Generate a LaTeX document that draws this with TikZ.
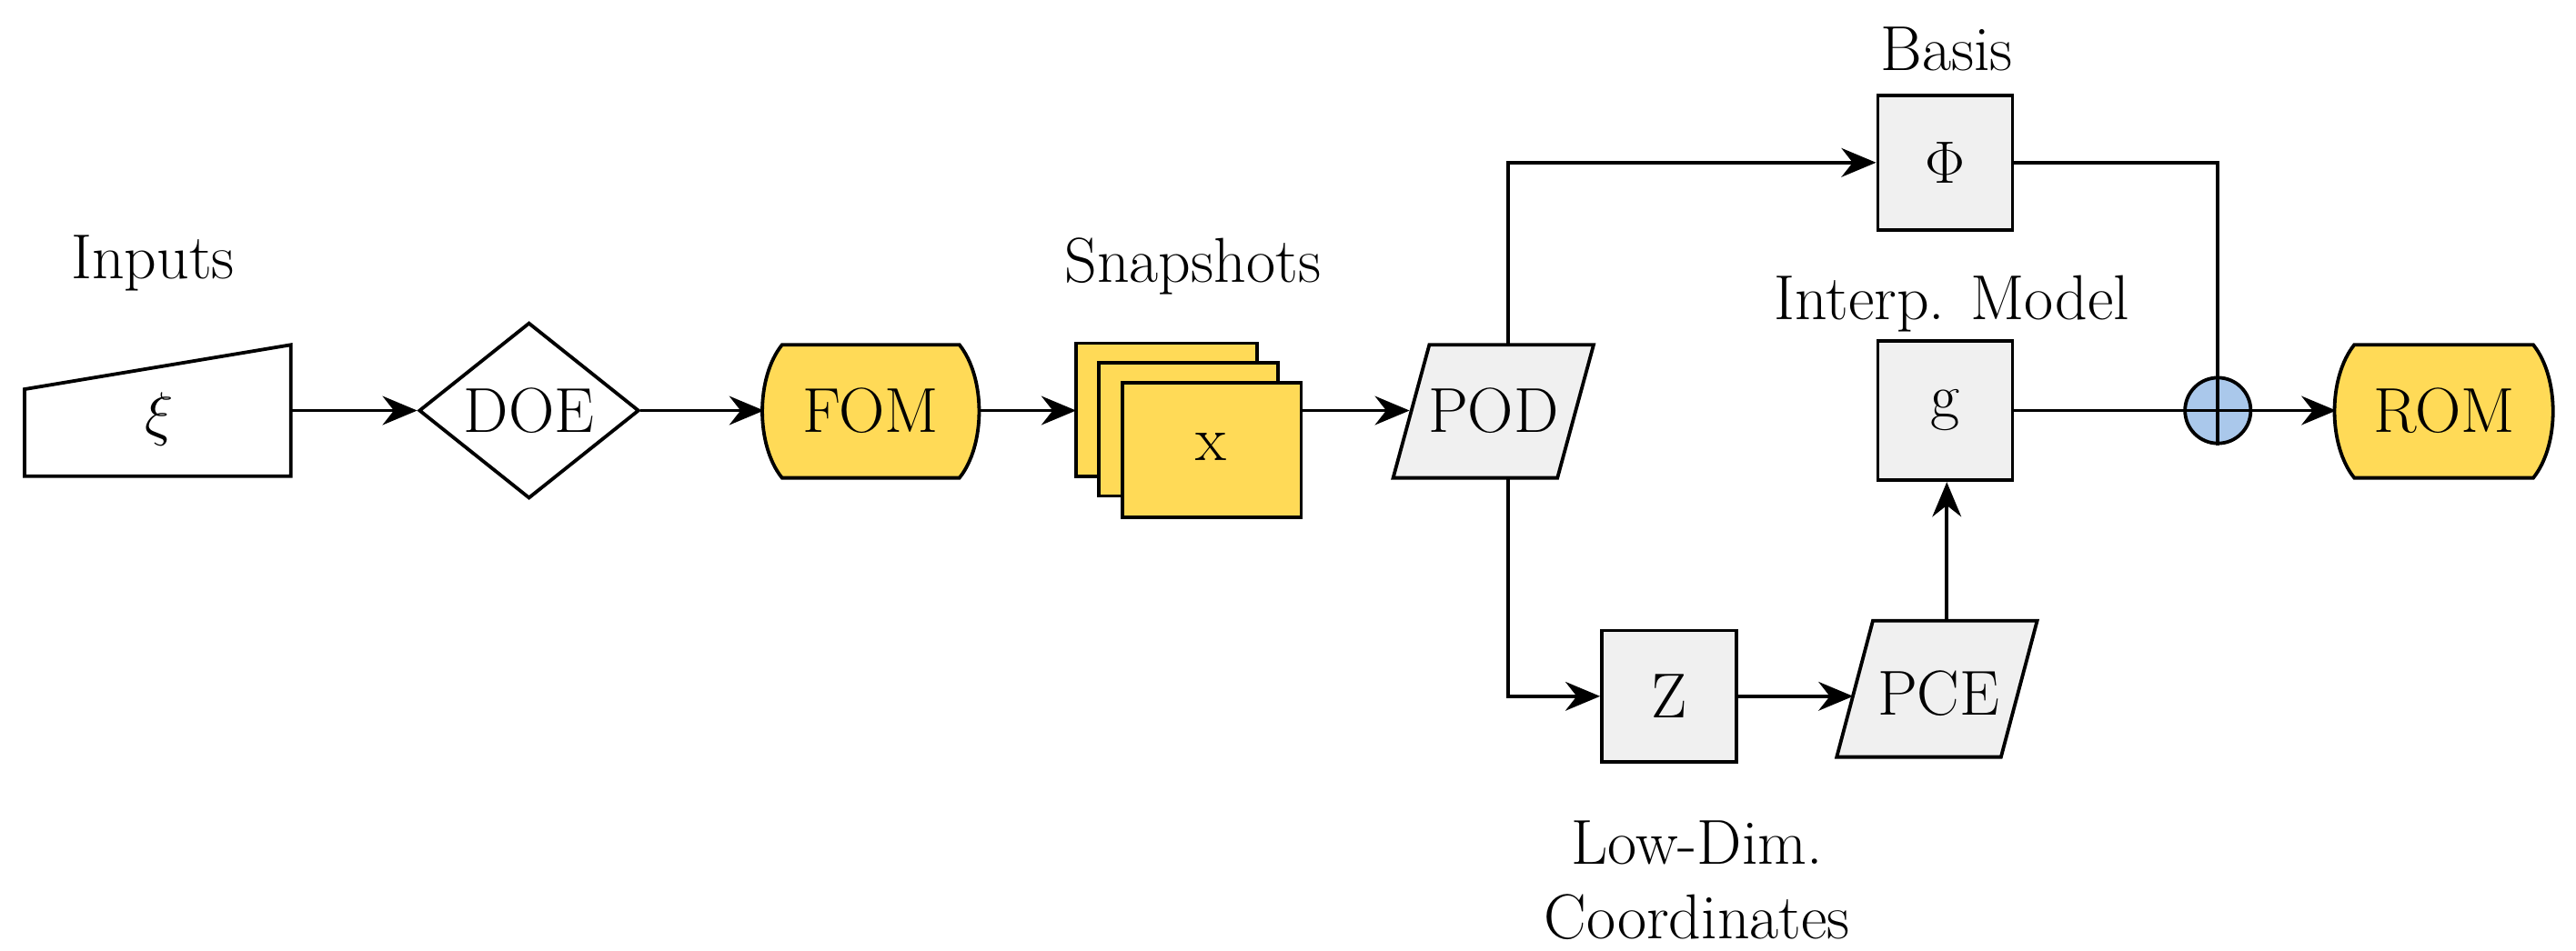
\documentclass[tikz,border=0pt]{standalone}
\usetikzlibrary{arrows.meta,shapes.geometric}
\definecolor{fomy}{RGB}{255,218,87}
\definecolor{boxg}{RGB}{240,240,240}
\definecolor{sumb}{RGB}{170,200,235}
\begin{document}
\begin{tikzpicture}[x=0.02cm,y=-0.02cm,
  font=\fontsize{22}{26}\selectfont,
  ln/.style={line width=1.2pt},
  arr/.style={ln,-{Stealth[length=12pt,width=10pt]}},
  bx/.style={draw,line width=1.2pt,fill=boxg,minimum width=1.64cm,minimum height=1.64cm},
  lbl/.style={align=center}]
\useasboundingbox (0,0) rectangle (1568,579);
% labels
\node[lbl] (linp) at (93,160) {Inputs};
\node[lbl] (lsnap) at (726,162) {Snapshots};
\node[lbl] (lbas) at (1185,30) {Basis};
\node[lbl] (lint) at (1188,185) {Interp. Model};
\node[lbl,align=center] (llow) at (1033,536) {Low-Dim.\\[0pt]Coordinates};
% input trapezoid
\draw[ln,fill=white] (15,237) -- (177,210) -- (177,290) -- (15,290) -- cycle;
\node (xi) at (97,255) {$\xi$};
\coordinate (inR) at (177,250);
% DOE
\node[draw,ln,diamond,fill=white,minimum width=2.68cm,minimum height=1.64cm,inner sep=0pt] (doe) at (322,250) {DOE};
% FOM
\draw[ln,fill=fomy] (476,210) -- (584,210) .. controls (600,230) and (600,271) .. (584,291) -- (476,291) .. controls (460,271) and (460,230) .. (476,210) -- cycle;
\node (fom) at (530,250) {FOM};
\coordinate (fomR) at (595,250);
% snapshots
\draw[ln,fill=fomy] (655,209) rectangle (765,290);
\draw[ln,fill=fomy] (669,221) rectangle (778,302);
\draw[ln,fill=fomy] (683,233) rectangle (792,315);
\node (x) at (737,272) {x};
\coordinate (snL) at (655,250);
\coordinate (snR) at (792,250);
% POD
\draw[ln,fill=boxg] (870,210) -- (970,210) -- (948,291) -- (848,291) -- cycle;
\node (pod) at (909,250) {POD};
\coordinate (podL) at (858,250);
\coordinate (podT) at (918,210);
\coordinate (podB) at (918,291);
% Phi, g, Z
\node[bx] (phi) at (1184,99) {$\Phi$};
\node[bx,minimum height=1.7cm] (g) at (1184,250) {g};
\node[bx,minimum height=1.6cm] (z) at (1016,424) {Z};
% PCE
\draw[ln,fill=boxg] (1140,378) -- (1240,378) -- (1218,461) -- (1118,461) -- cycle;
\node (pce) at (1180,422) {PCE};
\coordinate (pceT) at (1185,378);
\coordinate (pceL) at (1128,424);
% sum
\node[draw,ln,circle,fill=sumb,minimum size=0.8cm,inner sep=0pt] (sum) at (1350,250) {};
\draw[ln] (sum.north) -- (sum.south) (sum.west) -- (sum.east);
% ROM
\draw[ln,fill=fomy] (1433,210) -- (1542,210) .. controls (1558,230) and (1558,271) .. (1542,291) -- (1433,291) .. controls (1417,271) and (1417,230) .. (1433,210) -- cycle;
\node (rom) at (1488,250) {ROM};
\coordinate (romL) at (1422,250);
% connectors
\draw[arr] (inR) -- (doe.west);
\draw[arr] (doe.east) -- (465,250);
\draw[arr] (fomR) -- (snL);
\draw[arr] (snR) -- (podL);
\draw[arr] (podT) |- (phi.west);
\draw[arr] (podB) |- (z.west);
\draw[arr] (z.east) -- (pceL);
\draw[arr] (pceT) -- (pceT |- g.south);
\draw[ln] (phi.east) -| (sum.north);
\draw[ln] (g.east) -- (sum.west);
\draw[arr] (sum.east) -- (romL);
\end{tikzpicture}
\end{document}
